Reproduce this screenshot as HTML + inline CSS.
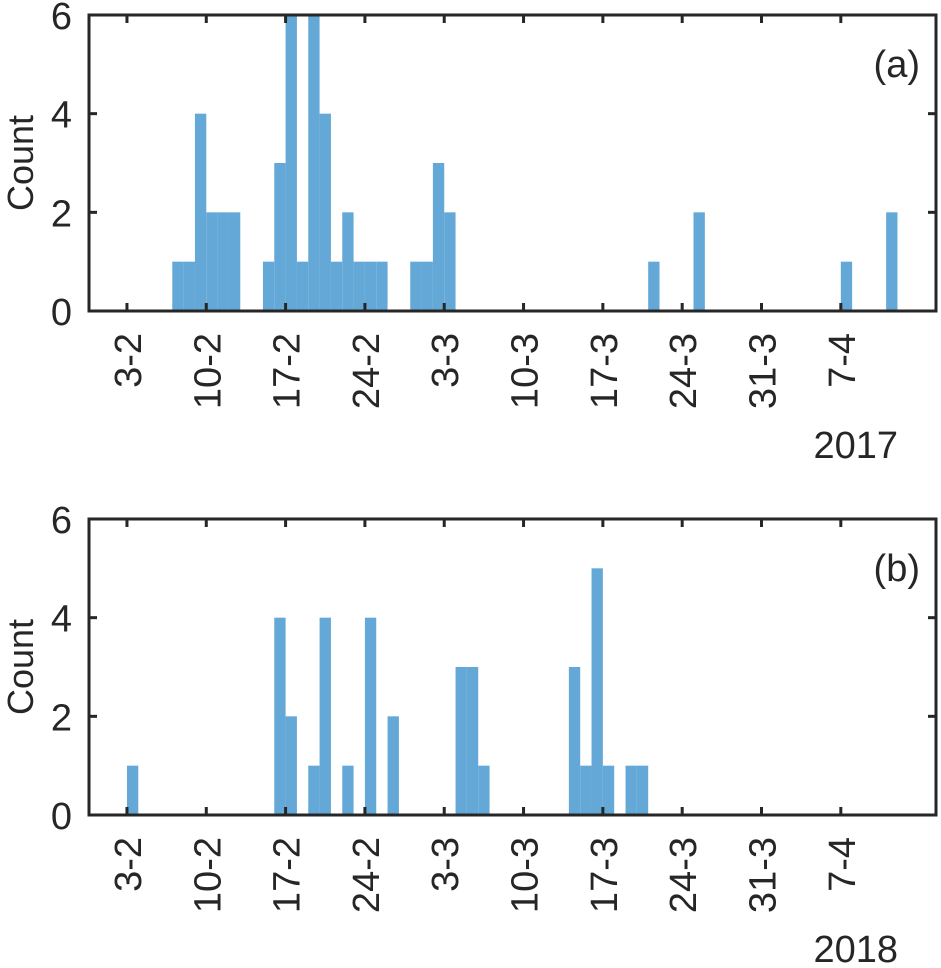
<!DOCTYPE html>
<html><head><meta charset="utf-8"><style>
body{margin:0;background:#fff;}
svg text{font-family:"Liberation Sans",Arial,sans-serif;fill:#262626;}
</style></head><body>
<svg id="chart" width="941" height="963" viewBox="0 0 941 963"></svg>
<script>
// Panel (a) 2017: bin start (days since 3-2) and counts
const binsA = [4,5,6,7,8,9,12,13,14,15,16,17,18,19,20,21,22,25,26,27,28,46,50,63,67];
const countsA = [1,1,4,2,2,2,1,3,6,1,6,4,1,2,1,1,1,1,1,3,2,1,2,1,2];
// Panel (b) 2018
const binsB = [0,13,14,16,17,19,21,23,29,30,31,39,40,41,42,44,45];
const countsB = [1,4,2,1,4,1,4,2,3,3,1,3,1,5,1,1,1];
const tickDays = [0,7,14,21,28,35,42,49,56,63];
const tickLabels = ["3-2","10-2","17-2","24-2","3-3","10-3","17-3","24-3","31-3","7-4"];
const yTicks = [0,2,4,6];

const NS="http://www.w3.org/2000/svg";
const svg=document.getElementById('chart');
function mk(tag,attrs,parent){const e=document.createElementNS(NS,tag);for(const k in attrs)e.setAttribute(k,attrs[k]);(parent||svg).appendChild(e);return e;}

function panel(cfg){
  const g=mk('g',{});
  
  
  const L=89,R=936;
  const x=d=>L+(d-cfg.xmin)/(cfg.xmax-cfg.xmin)*(R-L);
  const y=v=>cfg.base-(v/6)*(cfg.base-cfg.top);
  cfg.bins.forEach((b,i)=>{
    const r=mk('rect',{x:x(b),y:y(cfg.counts[i]),width:x(b+1)-x(b),height:cfg.base-y(cfg.counts[i]),fill:'#63a8d6'},g);
    
    
  });
  tickDays.forEach((d,i)=>{
    const tx=x(d);
    mk('line',{x1:tx,x2:tx,y1:cfg.base,y2:cfg.base-8,stroke:'#262626','stroke-width':3},g);
    mk('line',{x1:tx,x2:tx,y1:cfg.top,y2:cfg.top+8,stroke:'#262626','stroke-width':3},g);
    const t=mk('text',{x:tx+14,y:cfg.base+22,'font-size':38,'text-anchor':'end',transform:`rotate(-90 ${tx+14} ${cfg.base+22})`},g);
    t.textContent=tickLabels[i];
    
    
  });
  yTicks.forEach(v=>{
    const ty=y(v);
    mk('line',{x1:L,x2:L+8,y1:ty,y2:ty,stroke:'#262626','stroke-width':3},g);
    mk('line',{x1:R,x2:R-8,y1:ty,y2:ty,stroke:'#262626','stroke-width':3},g);
    const t=mk('text',{x:72,y:ty+14,'font-size':38,'text-anchor':'end'},g);
    t.textContent=v;
    
    
  });
  const fr=mk('rect',{x:L,y:cfg.top,width:R-L,height:cfg.base-cfg.top,fill:'none',stroke:'#262626','stroke-width':3},g);
  
  
  const cy=(cfg.top+cfg.base)/2;
  const yl=mk('text',{x:33,y:cy,'font-size':36,'text-anchor':'middle',transform:`rotate(-90 33 ${cy})`},g);
  yl.textContent='Count';
  
  
  const pl=mk('text',{x:920,y:cfg.top+62,'font-size':38,'text-anchor':'end'},g);
  pl.textContent=cfg.label;
  
  
  const yr=mk('text',{x:898,y:cfg.base+147,'font-size':38,'text-anchor':'end'},g);
  yr.textContent=cfg.year;
  
  
}
panel({name:'panel-a',bins:binsA,counts:countsA,xmin:-3.35,xmax:71.4,top:15,base:311,label:'(a)',year:'2017'});
panel({name:'panel-b',bins:binsB,counts:countsB,xmin:-3.35,xmax:71.4,top:519,base:815,label:'(b)',year:'2018'});
</script>
</body></html>
